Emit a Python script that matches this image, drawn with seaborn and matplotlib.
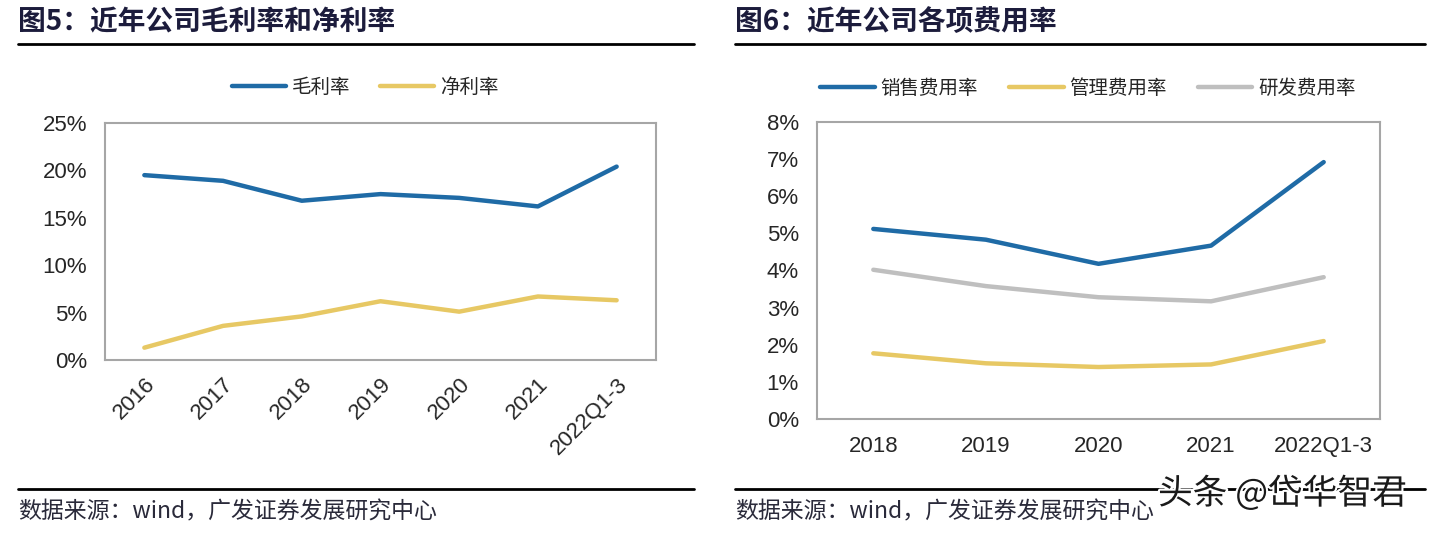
import pandas as pd
import seaborn as sns
import matplotlib.pyplot as plt
import matplotlib.patheffects as pe
from matplotlib.lines import Line2D
from matplotlib.ticker import PercentFormatter

# ===== DATA =====
years_left = ["2016", "2017", "2018", "2019", "2020", "2021", "2022Q1-3"]
gross_margin = [19.5, 18.9, 16.8, 17.5, 17.1, 16.2, 20.4]
net_margin = [1.3, 3.6, 4.6, 6.2, 5.1, 6.7, 6.3]

years_right = ["2018", "2019", "2020", "2021", "2022Q1-3"]
sales_rate = [5.12, 4.83, 4.18, 4.67, 6.92]
admin_rate = [1.77, 1.50, 1.40, 1.47, 2.10]
rd_rate = [4.02, 3.58, 3.28, 3.17, 3.82]

left_names = ["毛利率", "净利率"]
right_names = ["销售费用率", "管理费用率", "研发费用率"]

BLUE = "#1f6ba6"
YELLOW = "#e7c864"
GRAY = "#bfbfbf"
SPINE = "#a6a6a6"

sns.set_style("white")
plt.rcParams['font.family'] = ['Liberation Sans', 'Noto Sans CJK SC', 'DejaVu Sans']
CJK = ['Noto Sans CJK SC', 'DejaVu Sans']

df_left = pd.DataFrame({
    "year": years_left * 2,
    "value": gross_margin + net_margin,
    "series": [left_names[0]] * len(years_left) + [left_names[1]] * len(years_left),
})
df_right = pd.DataFrame({
    "year": years_right * 3,
    "value": sales_rate + admin_rate + rd_rate,
    "series": sum([[n] * len(years_right) for n in right_names], []),
})

W, H = 1439, 533
fig = plt.figure(figsize=(W / 100, H / 100), dpi=100)


def px_axes(x0, y0, x1, y1):
    return fig.add_axes([x0 / W, 1 - y1 / H, (x1 - x0) / W, (y1 - y0) / H])


def style_axes(ax):
    for s in ax.spines.values():
        s.set_color(SPINE)
        s.set_linewidth(1.5)
    ax.tick_params(axis="y", length=5, width=1.5, color=SPINE, labelsize=16, pad=8)
    ax.tick_params(axis="x", length=0, labelsize=16)
    ax.yaxis.set_major_formatter(PercentFormatter(decimals=0))
    ax.set_xlabel("")
    ax.set_ylabel("")
    ax.grid(False)


# ===== LEFT CHART =====
ax1 = px_axes(105, 123, 656, 360)
sns.lineplot(data=df_left, x="year", y="value", hue="series",
             palette=[BLUE, YELLOW], linewidth=3.2, legend=False, ax=ax1)
ax1.set_xlim(-0.5, len(years_left) - 0.5)
ax1.set_ylim(0, 25)
ax1.set_yticks([0, 5, 10, 15, 20, 25])
style_axes(ax1)
for lab in ax1.get_xticklabels():
    lab.set_rotation(45)
    lab.set_ha("right")
    lab.set_rotation_mode("anchor")
ax1.tick_params(axis="x", pad=10)

h1 = [Line2D([], [], color=c, lw=3.2) for c in [BLUE, YELLOW]]
ax1.legend(h1, left_names, loc="center", bbox_to_anchor=(365 / W, 1 - 87 / H),
           bbox_transform=fig.transFigure, ncol=2, frameon=False,
           prop={"family": CJK, "size": 14}, handlelength=2.8,
           handletextpad=0.3, columnspacing=1.5)

# ===== RIGHT CHART =====
ax2 = px_axes(817, 122, 1380, 419)
sns.lineplot(data=df_right, x="year", y="value", hue="series",
             palette=[BLUE, YELLOW, GRAY], linewidth=3.2, legend=False, ax=ax2)
ax2.set_xlim(-0.5, len(years_right) - 0.5)
ax2.set_ylim(0, 8)
ax2.set_yticks(range(0, 9))
style_axes(ax2)
ax2.tick_params(axis="x", pad=12)

h2 = [Line2D([], [], color=c, lw=3.2) for c in [BLUE, YELLOW, GRAY]]
ax2.legend(h2, right_names, loc="center", bbox_to_anchor=(1088 / W, 1 - 88 / H),
           bbox_transform=fig.transFigure, ncol=3, frameon=False,
           prop={"family": CJK, "size": 14}, handlelength=2.8,
           handletextpad=0.3, columnspacing=1.6)

# ===== TITLES, RULES, SOURCES =====
TITLE_C = "#1c1c3c"
fig.text(18 / W, 1 - 22 / H, "图5：近年公司毛利率和净利率", family=CJK, fontsize=20,
         fontweight="bold", color=TITLE_C, va="center", ha="left")
fig.text(735 / W, 1 - 22 / H, "图6：近年公司各项费用率", family=CJK, fontsize=20,
         fontweight="bold", color=TITLE_C, va="center", ha="left")

for x0, x1 in [(18, 694), (735, 1425)]:
    fig.add_artist(Line2D([x0 / W, x1 / W], [1 - 44 / H] * 2, color="black", lw=2))
    fig.add_artist(Line2D([x0 / W, x1 / W], [1 - 489 / H] * 2, color="black", lw=2))
    fig.text(x0 / W, 1 - 512 / H, "数据来源：wind，广发证券发展研究中心", family=CJK,
             fontsize=16.5, color="#2a2a3a", va="center", ha="left")

fig.text(1158 / W, 1 - 494 / H, "头条 @岱华智君", family=CJK, fontsize=25,
         color="#1a1a1a", va="center", ha="left",
         path_effects=[pe.withStroke(linewidth=3, foreground="white")])

plt.savefig("out.png", dpi=100)
